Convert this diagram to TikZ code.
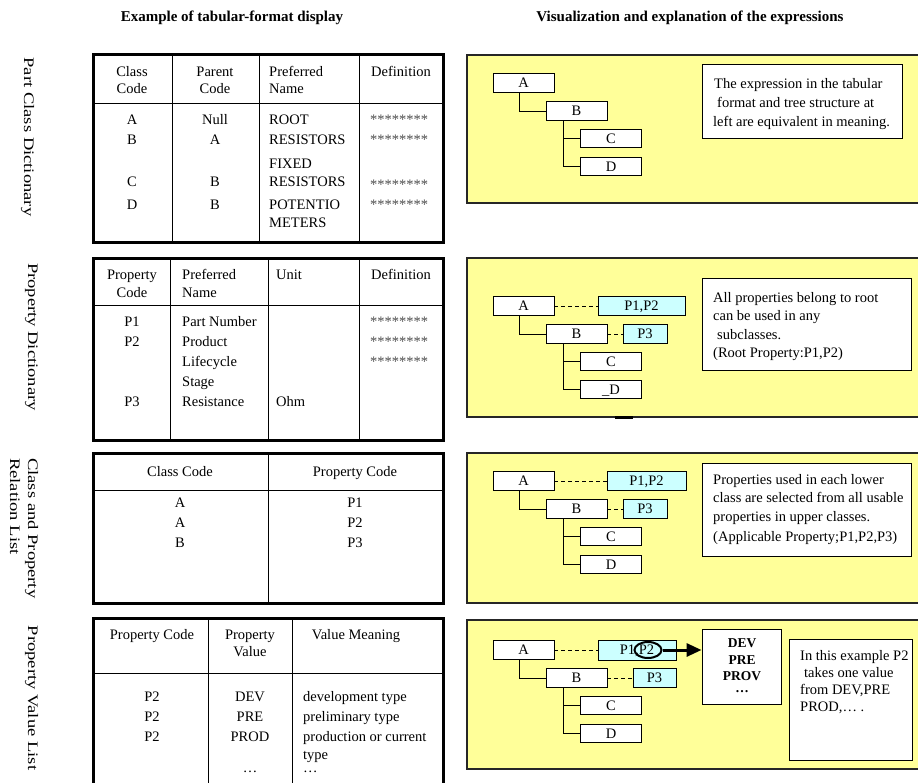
\documentclass[tikz,border=0pt]{standalone}
\usepackage{fontspec}
\setmainfont{Liberation Serif}
\usetikzlibrary{arrows.meta,shapes.geometric}
\definecolor{panelyellow}{HTML}{FFFF99}
\definecolor{propcyan}{HTML}{CCFFFF}
\newcommand\tf{\fontsize{14.5}{17}\selectfont}
\newcommand\ttlf{\fontsize{15}{18}\selectfont\bfseries}
\newcommand\vf{\fontsize{13.5}{16}\selectfont\bfseries}
\newcommand\drawtree[3]{%
  \node[cbox] (A#2) at (523.5,#1+9) {A};
  \node[cbox] (B#2) at (576.5,#1+37) {B};
  \node[cbox] (C#2) at (611,#1+64.5) {C};
  \node[cbox] (D#2) at (611,#1+92.5) {#3};
  \draw[conn] ([xshift=-4.5pt]A#2.south) |- (B#2.west);
  \draw[conn] ([xshift=-13.5pt]B#2.south) |- (D#2.west);
  \draw[conn] ([xshift=-13.5pt]B#2.south) |- (C#2.west);
}
\begin{document}
\begin{tikzpicture}[x=1pt,y=-1pt,
  t/.style={inner sep=0pt, text height=9.6pt, text depth=0pt, font=\tf},
  tl/.style={t, anchor=west},
  st/.style={t, text=black!70, yshift=0.5pt},
  tab/.style={line width=3pt, line join=miter},
  grid/.style={line width=0.9pt},
  panel/.style={fill=panelyellow, draw=black!85, line width=1.4pt},
  cbox/.style={draw, fill=white, line width=0.9pt, minimum width=61pt, minimum height=18.5pt, inner sep=0pt, text height=9.6pt, text depth=0pt, font=\tf},
  pbox/.style={draw, fill=propcyan, line width=0.9pt, inner sep=0pt, text height=9.6pt, text depth=0pt, font=\tf},
  wbox/.style={draw, fill=white, line width=0.9pt, inner sep=0pt},
  conn/.style={line width=0.9pt},
  dconn/.style={line width=0.9pt, dash pattern=on 4pt off 3pt},
  vlabel/.style={inner sep=0pt, text height=9.6pt, text depth=0pt, font=\tf, rotate=-90},
  title/.style={inner sep=0pt, text height=10pt, text depth=0pt, font=\ttlf},
  vt/.style={inner sep=0pt, text height=9pt, text depth=0pt, font=\vf}
]
\useasboundingbox (0,0) rectangle (918,783);
\clip (0,0) rectangle (918,783);
\fill[white] (0,0) rectangle (918,783);

% titles
\node[title] (title1) at (232,17) {Example of tabular-format display};
\node[title] (title2) at (690,17) {Visualization and explanation of the expressions};

% left labels
\node[vlabel] (lab1) at (29,137) {\scalebox{1.28}[1]{Part Class Dictionary}};
\node[vlabel] (lab2) at (33,337) {\scalebox{1.28}[1]{Property Dictionary}};
\node[vlabel, anchor=west] (lab3a) at (33,458) {\scalebox{1.28}[1]{Class and Property}};
\node[vlabel, anchor=west] (lab3b) at (15,458) {\scalebox{1.28}[1]{Relation List}};
\node[vlabel] (lab4) at (33,698) {\scalebox{1.28}[1]{Property Value List}};

% ---------- Table 1
\draw[grid] (93,103) -- (443,103);
\foreach \x in {172,259,359} \draw[grid] (\x,55) -- (\x,243);
\draw[tab] (93,55) rectangle (443,243);
\node[t] (a1) at (132,72) {Class};
\node[t] (a2) at (132,89) {Code};
\node[t] (a3) at (215,72) {Parent};
\node[t] (a4) at (215,89) {Code};
\node[tl] (a5) at (269,72) {Preferred};
\node[tl] (a6) at (269,89) {Name};
\node[t] (a7) at (401,72) {Definition};
\node[t] (a8) at (132,120) {A};
\node[t] (a9) at (132,140) {B};
\node[t] (a10) at (132,182) {C};
\node[t] (a11) at (132,205) {D};
\node[t] (a12) at (215,120) {Null};
\node[t] (a13) at (215,140) {A};
\node[t] (a14) at (215,182) {B};
\node[t] (a15) at (215,205) {B};
\node[tl] (a16) at (269,120) {ROOT};
\node[tl] (a17) at (269,140) {RESISTORS};
\node[tl] (a18) at (269,164) {FIXED};
\node[tl] (a19) at (269,182) {RESISTORS};
\node[tl] (a20) at (269,205) {POTENTIO};
\node[tl] (a21) at (269,223) {METERS};
\node[st] (a22) at (399,120) {********};
\node[st] (a23) at (399,140) {********};
\node[st] (a24) at (399,185) {********};
\node[st] (a25) at (399,205) {********};

% ---------- Table 2
\draw[grid] (93,305) -- (443,305);
\foreach \x in {170,268,359} \draw[grid] (\x,259) -- (\x,440);
\draw[tab] (93,259) rectangle (443,440);
\node[t] (b1) at (132,275) {Property};
\node[t] (b2) at (132,293) {Code};
\node[tl] (b3) at (182,275) {Preferred};
\node[tl] (b4) at (182,293) {Name};
\node[tl] (b5) at (276,275) {Unit};
\node[t] (b6) at (401,275) {Definition};
\node[t] (b7) at (132,322) {P1};
\node[t] (b8) at (132,342) {P2};
\node[t] (b9) at (132,402) {P3};
\node[tl] (b10) at (182,322) {Part Number};
\node[tl] (b11) at (182,342) {Product};
\node[tl] (b12) at (182,362) {Lifecycle};
\node[tl] (b13) at (182,382) {Stage};
\node[tl] (b14) at (182,402) {Resistance};
\node[tl] (b15) at (276,402) {Ohm};
\node[st] (b16) at (399,322) {********};
\node[st] (b17) at (399,342) {********};
\node[st] (b18) at (399,362) {********};

% ---------- Table 3
\draw[grid] (93,490) -- (443,490);
\draw[grid] (268,453) -- (268,603);
\draw[tab] (93,453) rectangle (443,603);
\node[t] (c1) at (180,472) {Class Code};
\node[t] (c2) at (355,472) {Property Code};
\node[t] (c3) at (180,503) {A};
\node[t] (c4) at (180,523) {A};
\node[t] (c5) at (180,543) {B};
\node[t] (c6) at (355,503) {P1};
\node[t] (c7) at (355,523) {P2};
\node[t] (c8) at (355,543) {P3};

% ---------- Table 4
\draw[grid] (93,673) -- (443,673);
\foreach \x in {208,292} \draw[grid] (\x,618) -- (\x,800);
\draw[tab] (93,800) -- (93,618) -- (443,618) -- (443,800);
\node[t] (d1) at (152,635) {Property Code};
\node[t] (d2) at (250,635) {Property};
\node[t] (d3) at (250,652) {Value};
\node[t] (d4) at (356,635) {Value Meaning};
\node[t] (d5) at (152,697) {P2};
\node[t] (d6) at (152,717) {P2};
\node[t] (d7) at (152,737) {P2};
\node[t] (d8) at (250,697) {DEV};
\node[t] (d9) at (250,717) {PRE};
\node[t] (d10) at (250,737) {PROD};
\node[inner sep=0pt, font=\tf] (d11) at (250,772) {…};
\node[tl] (d12) at (303,697) {development type};
\node[tl] (d13) at (303,717) {preliminary type};
\node[tl] (d14) at (303,737) {production or current};
\node[tl] (d15) at (303,755) {type};
\node[inner sep=0pt, font=\tf, anchor=west] (d16) at (303,772) {…};

% ---------- Panel 1
\draw[panel] (467,55) rectangle (935,203);
\drawtree{74}{1}{D}
\node[wbox, anchor=north west, minimum width=200pt, minimum height=74pt] (n1) at (702,64) {};
\node[tl] (n1a) at (714,84) {The expression in the tabular};
\node[tl] (n1b) at (717,103) {format and tree structure at};
\node[tl] (n1c) at (713,122) {left are equivalent in meaning.};

% ---------- Panel 2
\draw[panel] (467,258) rectangle (935,417);
\draw[line width=3pt] (615,417) -- (633,417);
\drawtree{297}{2}{\_D}
\node[pbox, minimum width=87pt, minimum height=18.5pt] (P12b) at (641.5,306) {P1,P2};
\node[pbox, minimum width=44pt, minimum height=18.5pt] (P3b) at (645,334) {P3};
\draw[dconn] (A2.east) -- (P12b.west);
\draw[dconn] (B2.east) -- (P3b.west);
\node[wbox, anchor=north west, minimum width=209pt, minimum height=92pt] (n2) at (702,278) {};
\node[tl] (n2a) at (713,298) {All properties belong to root};
\node[tl] (n2b) at (713,316) {can be used in any};
\node[tl] (n2c) at (717,335) {subclasses.};
\node[tl] (n2d) at (713,353) {(Root Property:P1,P2)};

% ---------- Panel 3
\draw[panel] (467,453) rectangle (935,603);
\drawtree{472}{3}{D}
\node[pbox, minimum width=79pt, minimum height=18.5pt] (P12c) at (646.5,481) {P1,P2};
\node[pbox, minimum width=44pt, minimum height=18.5pt] (P3c) at (645,509) {P3};
\draw[dconn] (A3.east) -- (P12c.west);
\draw[dconn] (B3.east) -- (P3c.west);
\node[wbox, anchor=north west, minimum width=209pt, minimum height=93pt] (n3) at (702,463) {};
\node[tl] (n3a) at (713,480) {Properties used in each lower};
\node[tl] (n3b) at (713,498) {class are selected from all usable};
\node[tl] (n3c) at (713,517) {properties in upper classes.};
\node[tl] (n3d) at (713,537) {(Applicable Property;P1,P2,P3)};

% ---------- Panel 4
\draw[panel] (467,620) rectangle (935,769);
\drawtree{641}{4}{D}
\node[pbox, minimum width=78pt, minimum height=20pt] (P12d) at (637,650) {P1,P2};
\node[pbox, minimum width=43pt, minimum height=18.5pt] (P3d) at (654.5,678) {P3};
\draw[dconn] (A4.east) -- (P12d.west);
\draw[dconn] (B4.east) -- (P3d.west);
\node[draw, ellipse, line width=2pt, minimum width=27pt, minimum height=16pt, inner sep=0pt] (ell) at (648,650) {};
\node[wbox, minimum width=79pt, minimum height=75pt] (vals) at (741.5,666.5) {};
\draw[line width=3pt, -{Triangle[length=15pt,width=13pt]}] (ell.east) -- (ell.east -| vals.west);
\node[vt] (v1) at (742,643) {DEV};
\node[vt] (v2) at (742,660) {PRE};
\node[vt] (v3) at (742,676) {PROV};
\node[inner sep=0pt, font=\vf] (v4) at (742,692) {…};
\node[wbox, anchor=north west, minimum width=123pt, minimum height=121pt] (n4) at (789,639) {};
\node[tl] (n4a) at (800,656) {In this example P2};
\node[tl] (n4b) at (804,673) {takes one value};
\node[tl] (n4c) at (800,690) {from DEV,PRE};
\node[tl] (n4d) at (800,707) {PROD,… .};
\end{tikzpicture}
\end{document}
